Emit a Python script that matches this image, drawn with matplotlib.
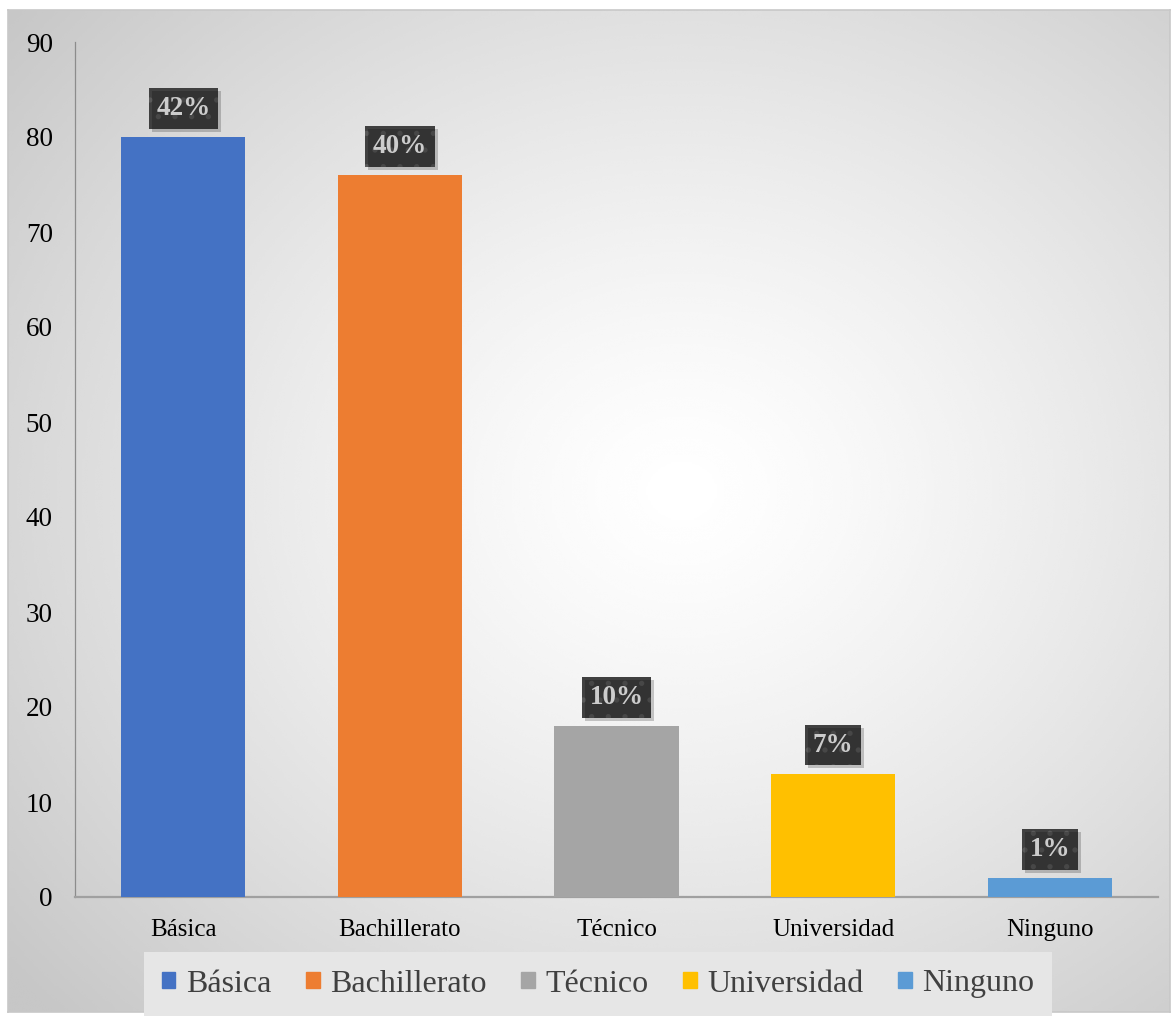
import matplotlib.pyplot as plt
import numpy as np

categories = ["Básica", "Bachillerato", "Técnico", "Universidad", "Ninguno"]
counts = [80, 76, 18, 13, 2]
pct_labels = ["42%", "40%", "10%", "7%", "1%"]
colors = ["#4472C4", "#ED7D31", "#A5A5A5", "#FFC000", "#5B9BD5"]

plt.rcParams['font.family'] = ['Liberation Serif', 'DejaVu Serif']
plt.rcParams['hatch.linewidth'] = 1.4

W, H = 1175, 1017
fig = plt.figure(figsize=(W / 100, H / 100), dpi=100)
fig.patch.set_facecolor('white')

# radial gradient background of the chart area
bg = fig.add_axes([8 / W, 5 / H, 1162 / W, 1002 / H])
yy, xx = np.mgrid[0:1:400j, 0:1:460j]
r = np.sqrt(((xx - 0.58) / 0.75) ** 2 + ((yy - 0.52) / 0.75) ** 2)
shade = 1.0 - 0.22 * np.clip(r, 0, 1) ** 1.3
bg.imshow(shade, cmap='gray', vmin=0, vmax=1, extent=[0, 1, 0, 1],
          aspect='auto', origin='lower', interpolation='bicubic')
bg.set_xticks([])
bg.set_yticks([])
for s in bg.spines.values():
    s.set_color('#c8c8c8')
    s.set_linewidth(1.2)

ax = fig.add_axes([75 / W, 120 / H, 1083 / W, 855 / H])
ax.patch.set_alpha(0)
x = np.arange(len(categories))
bars = ax.bar(x, counts, width=0.573, color=colors, zorder=3)
ax.set_xlim(-0.5, len(categories) - 0.5)
ax.set_ylim(0, 90)
ax.set_yticks(range(0, 91, 10))
ax.set_xticks(x)
ax.set_xticklabels(categories, fontsize=18)
ax.tick_params(axis='y', labelsize=19.5, length=0, pad=16)
ax.tick_params(axis='x', length=0, pad=16)
for s in ['top', 'right']:
    ax.spines[s].set_visible(False)
ax.spines['left'].set_color('#8c8c8c')
ax.spines['left'].set_linewidth(0.9)
ax.spines['bottom'].set_color('#a0a0a0')
ax.spines['bottom'].set_linewidth(1.6)

labels = []
for b, lab in zip(bars, pct_labels):
    xc = b.get_x() + b.get_width() / 2
    t = ax.annotate(lab, (xc, b.get_height()), xytext=(0, 20.5), textcoords='offset points',
                    ha='center', va='center', fontsize=19.5, fontweight='bold',
                    color='white', zorder=6,
                    bbox=dict(boxstyle='square,pad=0.28', facecolor='#404040',
                              edgecolor='#595959', hatch='.', linewidth=0))
    labels.append(t)

# soft shadow behind each label box, placed from the drawn box extents
fig.canvas.draw()
for t in labels:
    ext = t.get_bbox_patch().get_window_extent()
    (x0, y0), (x1, y1) = fig.transFigure.inverted().transform([[ext.x0 + 3, ext.y0 - 3],
                                                               [ext.x1 + 3, ext.y1 - 3]])
    fig.add_artist(plt.Rectangle((x0, y0), x1 - x0, y1 - y0, transform=fig.transFigure,
                                 facecolor='black', alpha=0.2, edgecolor='none', zorder=2))

handles = [plt.Rectangle((0, 0), 1, 1, color=c) for c in colors]
leg = fig.legend(handles, categories, loc='center', bbox_to_anchor=(598 / W, 1 - 984 / H),
                 ncol=5, frameon=True, fontsize=23, handlelength=0.42, handleheight=0.42,
                 handletextpad=0.32, columnspacing=1.1, borderpad=0.35)
leg.get_frame().set_facecolor('#e6e6e6')
leg.get_frame().set_edgecolor('none')
leg.get_frame().set_boxstyle('square,pad=0.2')
leg.get_frame().set_alpha(1)
for t in leg.get_texts():
    t.set_color('#404040')

fig.savefig('out.png', dpi=100, facecolor='white')
